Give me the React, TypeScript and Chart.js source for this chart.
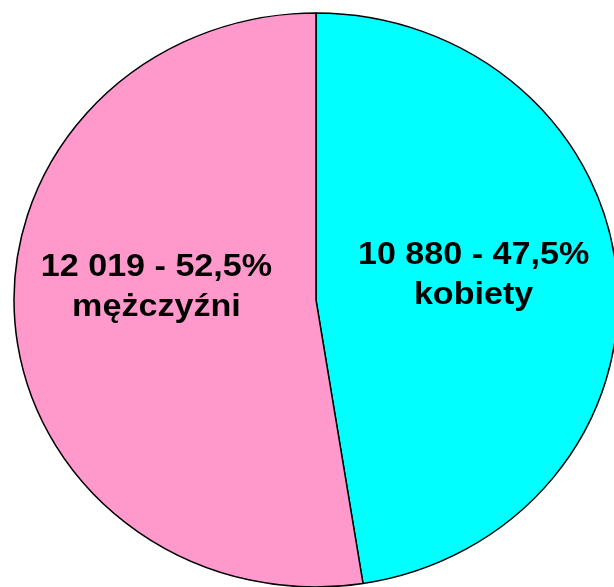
import React, { useEffect, useRef } from "react";
import { Chart, registerables } from "chart.js";

Chart.register(...registerables);

// ---- data ----
const categories = ["kobiety", "mężczyźni"];
const values = [10880, 12019];
const valueLabels = ["10 880", "12 019"];
const percentLabels = ["47,5%", "52,5%"];
const colors = ["#00FFFF", "#FF99CC"];

// ---- style ----
const W = 614;
const H = 587;
const RADIUS_X = 302;
const RADIUS_Y = 287;
const LABEL_FRACTION = 0.53;
const LABEL_DX = [-2, 0];
const LABEL_DY = [16, 4];
const LINE_GAP = 40;
const TEXT_STRETCH = 1.1;
const FONT = 'bold 31px "Liberation Sans", Arial, sans-serif';

export default function App() {
  const ref = useRef<HTMLCanvasElement | null>(null);

  useEffect(() => {
    if (!ref.current) return;

    const squash = {
      id: "squash",
      beforeDatasetsDraw(chart: any) {
        const arc = chart.getDatasetMeta(0).data[0];
        const ctx = chart.ctx;
        ctx.save();
        ctx.translate(arc.x, arc.y);
        ctx.scale(1, RADIUS_Y / RADIUS_X);
        ctx.translate(-arc.x, -arc.y);
      },
      afterDatasetsDraw(chart: any) {
        chart.ctx.restore();
      },
    };

    const labels = {
      id: "sliceLabels",
      afterDraw(chart: any) {
        const ctx = chart.ctx;
        const meta = chart.getDatasetMeta(0);
        meta.data.forEach((arc: any, i: number) => {
          const p = arc.getProps(["x", "y", "startAngle", "endAngle", "outerRadius"], true);
          const mid = (p.startAngle + p.endAngle) / 2;
          const r = p.outerRadius * LABEL_FRACTION;
          const lx = p.x + Math.cos(mid) * r + LABEL_DX[i];
          const ly = p.y + Math.sin(mid) * r * (RADIUS_Y / RADIUS_X) + LABEL_DY[i];
          ctx.save();
          ctx.translate(lx, ly);
          ctx.scale(TEXT_STRETCH, 1);
          ctx.font = FONT;
          ctx.fillStyle = "#000";
          ctx.textAlign = "center";
          ctx.textBaseline = "alphabetic";
          ctx.fillText(`${valueLabels[i]} - ${percentLabels[i]}`, 0, -LINE_GAP);
          ctx.fillText(categories[i], 0, 0);
          ctx.restore();
        });
      },
    };

    const chart = new Chart(ref.current, {
      type: "pie",
      data: {
        labels: categories,
        datasets: [
          {
            data: values,
            backgroundColor: colors,
            borderColor: "#000000",
            borderWidth: 1.5,
            clip: false as any,
          },
        ],
      },
      options: {
        responsive: false,
        animation: false,
        events: [],
        radius: RADIUS_X,
        layout: { padding: { left: 18, right: 0, top: 13, bottom: 0 } },
        plugins: {
          legend: { display: false },
          tooltip: { enabled: false },
          title: { display: false },
        },
      } as any,
      plugins: [squash, labels],
    });

    return () => chart.destroy();
  }, []);

  return (
    <div style={{ position: "fixed", left: 0, top: 0, width: W, height: H, background: "#fff" }}>
      <canvas ref={ref} width={W} height={H} style={{ display: "block", width: W, height: H }} />
    </div>
  );
}
